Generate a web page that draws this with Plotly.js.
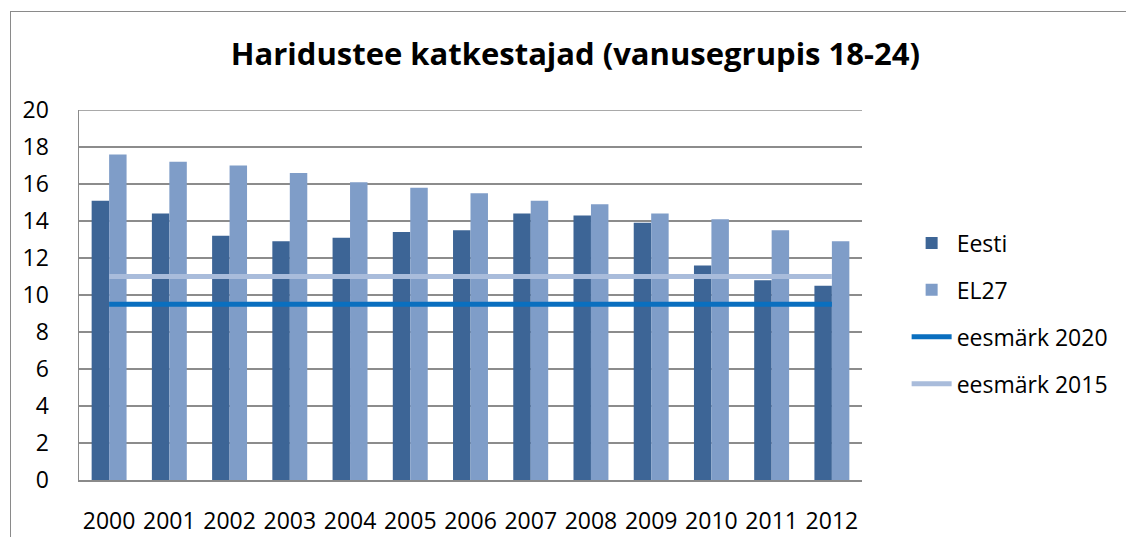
<!DOCTYPE html>
<html>
<head>
<meta charset="utf-8">
<script src="https://cdn.plot.ly/plotly-3.0.1.min.js"></script>
<style>
html,body{margin:0;padding:0;background:#fff;}
#chart{position:absolute;left:0;top:0;width:1126px;height:537px;}
#frame{position:absolute;left:10px;top:11px;width:1130px;height:540px;border-left:1px solid #8a8a8a;border-top:1px solid #8a8a8a;pointer-events:none;}
</style>
</head>
<body>
<div id="chart"></div>
<div id="frame"></div>
<script>
const years = ['2000','2001','2002','2003','2004','2005','2006','2007','2008','2009','2010','2011','2012'];
const eesti = [15.1,14.4,13.2,12.9,13.1,13.4,13.5,14.4,14.3,13.9,11.6,10.8,10.5];
const el27 = [17.6,17.2,17.0,16.6,16.1,15.8,15.5,15.1,14.9,14.4,14.1,13.5,12.9];
const target2020 = [9.5,9.5,9.5,9.5,9.5,9.5,9.5,9.5,9.5,9.5,9.5,9.5,9.5];
const target2015 = [11,11,11,11,11,11,11,11,11,11,11,11,11];
const yTicks = [0,2,4,6,8,10,12,14,16,18,20];

const FONT = 'Open Sans, Lato, sans-serif';
const traces = [
  {type:'bar', name:'Eesti', x:years, y:eesti, marker:{color:'#3d6596'}, legendgroup:'a'},
  {type:'bar', name:'EL27', x:years, y:el27, marker:{color:'#7f9dc8'}, legendgroup:'b'},
  {type:'scatter', mode:'lines', name:'eesmärk 2020', x:years, y:target2020, line:{color:'#0a6fbf', width:5}, legendgroup:'c'},
  {type:'scatter', mode:'lines', name:'eesmärk 2015', x:years, y:target2015, line:{color:'#a9bcdb', width:5}, legendgroup:'d'}
];
const layout = {
  width:1126, height:537,
  margin:{l:79, r:264, t:110, b:57},
  paper_bgcolor:'#ffffff', plot_bgcolor:'#ffffff',
  font:{family:FONT, color:'#000', size:23},
  title:{text:'<b>Haridustee katkestajad (vanusegrupis 18-24)</b>', font:{family:FONT, size:31, color:'#000'}, x:0.511, xanchor:'center', y:0.9, yanchor:'middle'},
  barmode:'group', bargap:0.42, bargroupgap:0,
  showlegend:true,
  legend:{x:1.057, xanchor:'left', y:0.45, yanchor:'middle', font:{family:FONT, size:23, color:'#000'}, tracegroupgap:14, itemwidth:40, bgcolor:'rgba(0,0,0,0)'},
  xaxis:{type:'category', showgrid:false, showline:true, linecolor:'#8a8a8a', linewidth:1.5, ticks:'', tickfont:{family:FONT, size:23}, ticklabelstandoff:20, fixedrange:true},
  yaxis:{range:[0,20], tickvals:yTicks, showgrid:true, gridcolor:'#8c8c8c', gridwidth:1.3, showline:true, linecolor:'#8a8a8a', linewidth:1.5, zeroline:false, ticks:'', tickfont:{family:FONT, size:23}, ticklabelstandoff:24, fixedrange:true},
  shapes:[{type:'line', xref:'paper', yref:'y', x0:0, x1:1, y0:20, y1:20, line:{color:'#8c8c8c', width:1.3}}]
};
Plotly.newPlot('chart', traces, layout, {displayModeBar:false, staticPlot:true});
</script>
</body>
</html>
